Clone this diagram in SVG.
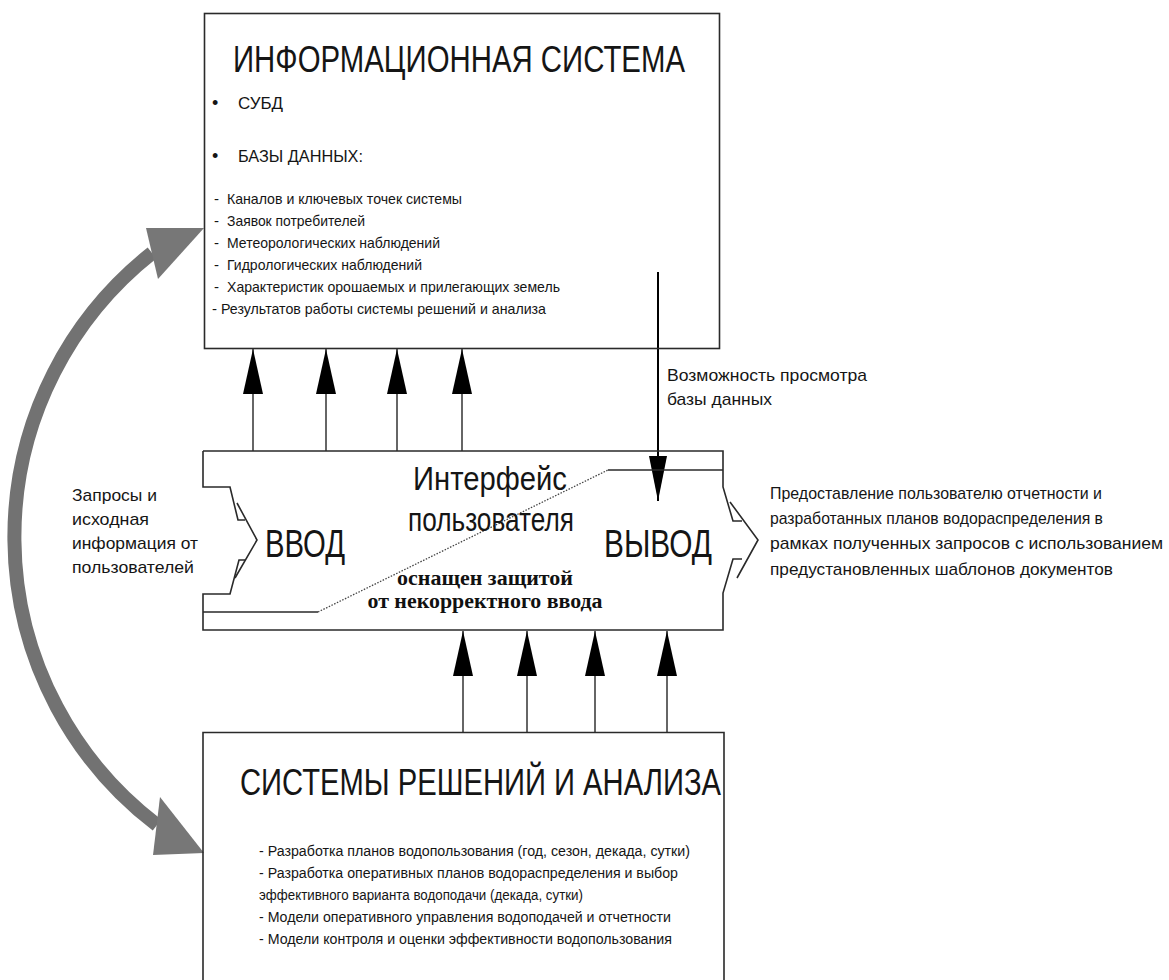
<svg xmlns="http://www.w3.org/2000/svg" width="1169" height="980" viewBox="0 0 1169 980">
<style>
.box{fill:none;stroke:#2a2a2a;stroke-width:1.6}
.t{font-family:"Liberation Sans Narrow","Liberation Sans",Arial,sans-serif;fill:#151515}
.big{font-size:36px}
.mid{font-size:34px}
.sm{font-size:15px}
.lb{font-size:17px}
.bold{font-family:"Liberation Serif","Times New Roman",serif;font-weight:bold;font-size:20px;fill:#111}
.conn{stroke:#333;stroke-width:1.5;fill:none}
</style>
<defs>
<marker id="ah" markerUnits="userSpaceOnUse" viewBox="0 0 45 20" refX="45" refY="10" markerWidth="45" markerHeight="20" orient="auto">
<path d="M0,0 L45,10 L0,20 Z" fill="#000"/>
</marker>
<marker id="ah2" markerUnits="userSpaceOnUse" viewBox="0 0 45 18" refX="45" refY="9" markerWidth="45" markerHeight="18" orient="auto">
<path d="M0,0 L45,9 L0,18 Z" fill="#000"/>
</marker>
</defs>
<rect width="1169" height="980" fill="#fff"/>

<g id="connectors">
<line class="conn" x1="253" y1="451" x2="253" y2="349" marker-end="url(#ah)"/>
<line class="conn" x1="326" y1="451" x2="326" y2="349" marker-end="url(#ah)"/>
<line class="conn" x1="397" y1="451" x2="397" y2="349" marker-end="url(#ah)"/>
<line class="conn" x1="462" y1="451" x2="462" y2="349" marker-end="url(#ah)"/>
<line class="conn" x1="463" y1="732" x2="463" y2="631" marker-end="url(#ah)"/>
<line class="conn" x1="527" y1="732" x2="527" y2="631" marker-end="url(#ah)"/>
<line class="conn" x1="595" y1="732" x2="595" y2="631" marker-end="url(#ah)"/>
<line class="conn" x1="667" y1="732" x2="667" y2="631" marker-end="url(#ah)"/>
<line x1="658" y1="272" x2="658" y2="501" stroke="#000" stroke-width="2" marker-end="url(#ah2)"/>
<path d="M152,253 A362,362 0 0 0 157,825" fill="none" stroke="#727272" stroke-width="14"/>
<polygon points="146,228 204,228 158,279" fill="#777"/>
<polygon points="160,797 153,855 204,853" fill="#777"/>
</g>

<g id="info-system">
<rect class="box" x="204.5" y="13.5" width="515" height="335"/>
<text class="t big" x="233" y="72" textLength="452" lengthAdjust="spacingAndGlyphs">ИНФОРМАЦИОННАЯ СИСТЕМА</text>
<text class="t" x="212" y="109" font-size="18">•</text>
<text class="t" x="238" y="109" font-size="16" textLength="45" lengthAdjust="spacingAndGlyphs">СУБД</text>
<text class="t" x="212" y="162" font-size="18">•</text>
<text class="t" x="238" y="162" font-size="16" textLength="125" lengthAdjust="spacingAndGlyphs">БАЗЫ ДАННЫХ:</text>
<g class="t sm">
<text x="214" y="204">-</text><text x="227" y="204" textLength="235" lengthAdjust="spacingAndGlyphs">Каналов и ключевых точек системы</text>
<text x="214" y="226">-</text><text x="227" y="226" textLength="138" lengthAdjust="spacingAndGlyphs">Заявок потребителей</text>
<text x="214" y="248">-</text><text x="227" y="248" textLength="213" lengthAdjust="spacingAndGlyphs">Метеорологических наблюдений</text>
<text x="214" y="270">-</text><text x="227" y="270" textLength="195" lengthAdjust="spacingAndGlyphs">Гидрологических наблюдений</text>
<text x="214" y="292">-</text><text x="227" y="292" textLength="333" lengthAdjust="spacingAndGlyphs">Характеристик орошаемых и прилегающих земель</text>
<text x="212" y="314">-</text><text x="221" y="314" textLength="325" lengthAdjust="spacingAndGlyphs">Результатов работы системы решений и анализа</text>
</g>
</g>

<g id="user-interface">
<path class="box" d="M203,451 H723 V487 L733,521 H742 M742,559 H733 L723,593 V630 H203 V594 H230 L239,560 H245 M245,520 H238 L230,487 H203 V451"/>
<path class="box" d="M237,503 L257,540 L235,578"/>
<path class="box" d="M730,502 L758,540 L737,578"/>
<path class="box" d="M608,470 H723 M203,612 H318"/>
<line x1="318" y1="612" x2="608" y2="470" stroke="#444" stroke-width="1.3" stroke-dasharray="1.5 1.5"/>
<text class="t mid" x="413" y="490" textLength="154" lengthAdjust="spacingAndGlyphs">Интерфейс</text>
<text class="t mid" x="408" y="531" textLength="166" lengthAdjust="spacingAndGlyphs">пользователя</text>
<text class="t" x="265" y="557" font-size="38" textLength="80" lengthAdjust="spacingAndGlyphs">ВВОД</text>
<text class="t" x="604" y="557" font-size="38" textLength="108" lengthAdjust="spacingAndGlyphs">ВЫВОД</text>
<text class="bold" x="485" y="585" text-anchor="middle" textLength="176" lengthAdjust="spacingAndGlyphs">оснащен защитой</text>
<text class="bold" x="485" y="608" text-anchor="middle" textLength="235" lengthAdjust="spacingAndGlyphs">от некорректного ввода</text>
</g>

<g id="decision-systems">
<path class="box" d="M203,990 V732.5 H724 V990"/>
<text class="t" x="240" y="795" font-size="37" textLength="481" lengthAdjust="spacingAndGlyphs">СИСТЕМЫ РЕШЕНИЙ И АНАЛИЗА</text>
<g class="t" font-size="15.5">
<text x="259" y="856" textLength="431" lengthAdjust="spacingAndGlyphs">- Разработка планов водопользования (год, сезон, декада, сутки)</text>
<text x="259" y="878" textLength="419" lengthAdjust="spacingAndGlyphs">- Разработка оперативных планов водораспределения и выбор</text>
<text x="259" y="900" textLength="324" lengthAdjust="spacingAndGlyphs">эффективного варианта водоподачи (декада, сутки)</text>
<text x="259" y="922" textLength="412" lengthAdjust="spacingAndGlyphs">- Модели оперативного управления водоподачей и отчетности</text>
<text x="259" y="944" textLength="413" lengthAdjust="spacingAndGlyphs">- Модели контроля и оценки эффективности водопользования</text>
</g>
</g>

<g id="input-label" class="t lb">
<text x="72" y="501" textLength="85" lengthAdjust="spacingAndGlyphs">Запросы и</text>
<text x="72" y="525" textLength="77" lengthAdjust="spacingAndGlyphs">исходная</text>
<text x="72" y="549" textLength="126" lengthAdjust="spacingAndGlyphs">информация от</text>
<text x="72" y="573" textLength="122" lengthAdjust="spacingAndGlyphs">пользователей</text>
</g>

<g id="output-label" class="t lb">
<text x="770" y="499" textLength="332" lengthAdjust="spacingAndGlyphs">Предоставление пользователю отчетности и</text>
<text x="770" y="524" textLength="333" lengthAdjust="spacingAndGlyphs">разработанных планов водораспределения в</text>
<text x="770" y="549" textLength="393" lengthAdjust="spacingAndGlyphs">рамках полученных запросов с использованием</text>
<text x="770" y="575" textLength="343" lengthAdjust="spacingAndGlyphs">предустановленных шаблонов документов</text>
</g>

<g id="view-label" class="t lb">
<text x="667" y="381" textLength="200" lengthAdjust="spacingAndGlyphs">Возможность просмотра</text>
<text x="667" y="405" textLength="105" lengthAdjust="spacingAndGlyphs">базы данных</text>
</g>
</svg>
